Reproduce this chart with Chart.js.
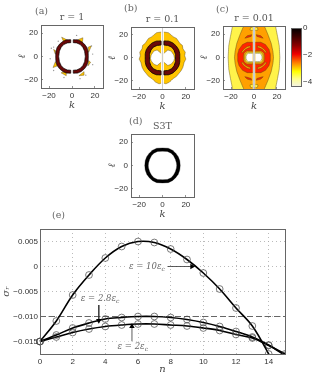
<!DOCTYPE html>
<html><head><meta charset="utf-8">
<style>
html,body{margin:0;padding:0;background:#fff;width:315px;height:374px;overflow:hidden}
canvas{position:absolute;display:block}
</style>
<script src="https://cdn.jsdelivr.net/npm/chart.js@4"></script>
</head><body>
<canvas id="a"></canvas><canvas id="b"></canvas><canvas id="c"></canvas><canvas id="cb"></canvas><canvas id="d"></canvas><canvas id="e"></canvas>
<script>
// ---- axis ticks
const kTicks=[-20,0,20], kLabels=['−20','0','20'];
const lTicks=[20,0,-20], lLabels=['20','0','−20'];
const cbTicks=[0,-2,-4], cbLabels=['0','−2','−4'];
const nTicks=[0,2,4,6,8,10,12,14], nLabels=['0','2','4','6','8','10','12','14'];
const sigmaTicks=[0.005,0,-0.005,-0.01,-0.015], sigmaLabels=['0.005','0','−0.005','−0.010','−0.015'];
// ---- panel (e) growth-rate curves
const nValues=[0,1,2,3,4,5,6,7,8,9,10,11,12,13,14,15];
const sigma10=[-0.015,-0.0109,-0.0057,-0.0017,0.0017,0.0040,0.0050,0.0048,0.0035,0.0014,-0.0013,-0.0045,-0.0083,-0.0119,-0.0175,-0.024];
const sigma28=[-0.015,-0.0137,-0.0123,-0.0113,-0.0105,-0.0102,-0.0100,-0.0100,-0.0102,-0.0106,-0.0112,-0.0120,-0.0130,-0.0141,-0.0157,-0.0178];
const sigma2=[-0.015,-0.0141,-0.0132,-0.0125,-0.0120,-0.0117,-0.0115,-0.0115,-0.0117,-0.0119,-0.0123,-0.0128,-0.0136,-0.0143,-0.0158,-0.0175];
const sigmaCritical=[[0,-0.01],[15,-0.01]];
const arrow28=[[3.6,-0.0077],[3.6,-0.0108]];
const arrow2=[[5.63,-0.0150],[5.63,-0.0120]];
const arrow10=[[7.45,0],[9.3,0]];
const notes=[{t:'ε = 10ε',n:5.45,s:0},{t:'ε = 2.8ε',n:2.5,s:-0.0064},{t:'ε = 2ε',n:4.75,s:-0.016}];
// ---- panel (a)
const ringA=[[1.1,14.3],[5,14.2],[8,12.9],[10.8,10.6],[13,7.6],[14,4.2],[14.2,0],[14,-4.2],[13,-7.6],[10.8,-10.6],[8,-12.9],[5,-14.2],[1.1,-14.3],[1.1,-11.8],[4,-11.6],[7.2,-10.2],[9.4,-7.9],[11,-4.5],[11.6,0],[11,4.5],[9.4,7.9],[7.2,10.2],[4,11.6],[1.1,11.8],[1.1,14.3]];
const patchA=[
 [[-9,16.5],[-5,14.5],[-7,12],[-9,16.5]],[[9.5,16],[5.5,14.5],[9,11.5],[9.5,16]],
 [[16.8,9],[14.2,8],[14.5,3.5],[16.8,9]],[[-16.5,-9.5],[-14.5,-4.5],[-12.5,-8],[-16.5,-9.5]],
 [[-9.5,-14],[-5,-16.5],[-5,-13],[-9.5,-14]],[[10.5,-13],[6,-16.5],[10.5,-16],[10.5,-13]],
 [[16.2,-5],[14.5,-3.5],[14,-8],[16.2,-5]],[[-16,6],[-14.5,5],[-14.5,2],[-16,6]]];
const specksA=[[-16,8],[-18,7],[-16,-12],[17,9],[18,-7],[7,-19],[-7,-18],[4,18],[-19,-2],[18,2],[12,-16],[-12,13]];
// ---- panel (b)
const blobB=[[1.2,22.5],[5,22],[7.5,20],[9,18.5],[12,17],[14,14],[15,12.5],[17,11],[17.5,8],[19.5,5],[19,2],[20,-1],[18.5,-4],[17.5,-8],[16,-11],[14,-13.5],[12,-16],[9,-18],[6,-21],[3,-22.5],[1.2,-22]];
const holeB=[[1.2,4],[4.6,6.9],[7.4,6],[9.7,2.6],[10.3,-0.3],[9.7,-2.6],[7.4,-5.4],[4.6,-6.6],[1.2,-3.7]];
const ringB=[[1.2,14.8],[5.5,14.6],[9,13],[11.8,10.4],[14,7],[14.8,3.5],[14.8,-3.5],[14,-7],[11.8,-10.4],[9,-13],[5.5,-14.6],[1.2,-14.8],[1.2,-11.2],[4.6,-10.9],[7.8,-9.4],[9.9,-6.8],[11.1,-3.3],[11.1,3.3],[9.9,6.8],[7.8,9.4],[4.6,10.9],[1.2,11.2],[1.2,14.8]];
// ---- panel (c)
const yellowC=[[1.2,28],[18.5,28],[20.5,18],[22,10],[22.5,0],[22,-10],[20.5,-18],[18.5,-28],[1.2,-28]];
const orangeC=[[1.2,28],[8.5,28],[12,20],[15,12],[16.5,5],[17,0],[16.5,-5],[15,-12],[12,-20],[8.5,-28],[1.2,-28]];
const redC=[[1.2,13],[6,13],[10,11],[13,7],[14.2,3],[14.2,-3],[13,-7],[10,-11],[6,-13],[1.2,-13]];
const bandTopC=[[3,10],[6,9.3],[9,7],[11,4.5],[10,4],[7.5,6.7],[5,8],[3,8.6],[3,10]];
const bandLowC=[[3,-10],[6,-9.3],[9,-7],[11,-4.5],[10,-4],[7.5,-6.7],[5,-8],[3,-8.6],[3,-10]];
const arcTopC=[[2,19.5],[6,18.5],[8,16.5],[6.5,16.8],[2.5,18],[2,19.5]];
const arcLowC=[[2,-19.5],[6,-18.5],[8,-16.5],[6.5,-16.8],[2.5,-18],[2,-19.5]];
const capTopC=[[1.2,26],[3,25.5],[3.5,23.5],[1.2,23]];
const capLowC=[[1.2,-26],[3,-25.5],[3.5,-23.5],[1.2,-23]];
const coreOrangeC=[[1.2,5.8],[6,5.8],[8.6,4],[9.2,1.5],[9.2,-1.5],[8.6,-4],[6,-5.8],[1.2,-5.8]];
const coreYellowC=[[1.2,4.6],[5.5,4.6],[7.6,3],[8,1],[8,-1],[7.6,-3],[5.5,-4.6],[1.2,-4.6]];
const coreWhiteC=[[1.2,3.6],[5,3.6],[6.6,2.2],[7,0.7],[7,-0.7],[6.6,-2.2],[5,-3.6],[1.2,-3.6]];
const gapLine=[[0,-27],[0,27]];
// ---- panel (d)
const outerD=[[0,15],[5,14.7],[8.5,13],[11.3,10.5],[13.5,7.5],[14.8,4],[15.2,0],[14.8,-4],[13.5,-7.5],[11.3,-10.5],[8.5,-13],[5,-14.7],[0,-15]];
const innerD=[[0,12.2],[4.2,12],[7.4,10.5],[9.5,8.2],[11,5.3],[12,2.1],[12.2,0],[12,-2.1],[11,-5.3],[9.5,-8.2],[7.4,-10.5],[4.2,-12],[0,-12.2]];
// ---- colour bar
const cbRange=[-4.3,0];
const cbStops=[[0,'#000000'],[0.14,'#3a0000'],[0.3,'#8a0000'],[0.45,'#f00000'],[0.6,'#ff8000'],[0.75,'#ffff00'],[0.88,'#ffff90'],[1,'#f4f4e0']];

const YEL='#FFF34A', ORG='#FFA000', GOLD='#FFC400', RED='#FF2400', MAR='#6A0808';
const EDGE='rgba(90,70,20,.75)';
const mirror=p=>p.map(([k,l])=>[-k,l]);
const pts=p=>p.map(([x,y])=>({x,y}));
const poly=(p,bg,bc=EDGE,bw=.6)=>({type:'scatter',data:pts(p),showLine:true,fill:false,shapeFill:bg,borderColor:bc,borderWidth:bw,pointRadius:0,tension:0.0001});
const both=(p,bg,bc,bw)=>[poly(p,bg,bc,bw),poly(mirror(p),bg,bc,bw)];
const TICK={family:'"Liberation Sans",Arial,sans-serif',size:8};
const framePlugin={id:'frame',afterDraw(c){const a=c.chartArea,x=c.ctx;x.save();x.strokeStyle='#666';x.lineWidth=1;x.strokeRect(Math.round(a.left)+.5,Math.round(a.top)+.5,Math.round(a.width),Math.round(a.height));x.restore();}};
// fills each closed contour through the points the scales placed
const shapeFillPlugin={id:'shapeFill',beforeDatasetDraw(c,args){const d=c.data.datasets[args.index];if(!d.shapeFill)return;
 const a=c.chartArea,x=c.ctx,pp=args.meta.data;x.save();x.beginPath();x.rect(a.left,a.top,a.width,a.height);x.clip();
 x.beginPath();pp.forEach((p,i)=>i?x.lineTo(p.x,p.y):x.moveTo(p.x,p.y));x.closePath();x.fillStyle=d.shapeFill;x.fill();x.restore();}};
const tagPlugin={id:'tag',afterDraw(c){const o=c.options.plugins.tag;if(!o)return;const x=c.ctx;x.save();x.font='9.5px "DejaVu Serif",serif';x.fillStyle='#666';x.textBaseline='middle';x.fillText(o.text,c.chartArea.left+o.dx,c.chartArea.top+o.dy);x.restore();}};

function place(id,l,t,w,h){const c=document.getElementById(id);c.width=w;c.height=h;c.style.left=l+'px';c.style.top=t+'px';c.style.width=w+'px';c.style.height=h+'px';return c;}
function linAxis(min,max,ticks,labels,fit,title,titlePad,tickPad,grid,dash){
 return {type:'linear',min,max,afterBuildTicks:s=>{s.ticks=ticks.map(v=>({value:v}));},
  afterFit:fit,border:{display:false,dash:dash||[]},
  ticks:{autoSkip:false,maxRotation:0,minRotation:0,font:TICK,color:'#333',padding:tickPad,callback:(v,i)=>labels[i]},
  title:{display:!!title,text:title,color:'#444',font:{family:'"DejaVu Serif",serif',size:10,style:'italic',lineHeight:1},padding:{top:titlePad,bottom:0}},
  grid:grid};
}
const innerTicks={drawOnChartArea:false,drawTicks:true,tickLength:-2,color:'#777',lineWidth:.8};
function panel(id,f,tag,tagAt,title,datasets,titlePadTop){
 const [L,T,R,B]=f, leftW=24, topH=17, extraTop=10, botH=22, rightW=8;
 const w=R-L+leftW+rightW, h=B-T+topH+botH+extraTop;
 const cv=place(id,L-leftW,T-topH-extraTop,w,h);
 datasets.forEach((d,i)=>{d.order=datasets.length-i;});
 new Chart(cv,{type:'scatter',data:{datasets},plugins:[shapeFillPlugin,framePlugin,tagPlugin],options:{
  responsive:false,animation:false,devicePixelRatio:1,
  layout:{padding:{top:extraTop,right:rightW,bottom:0,left:0}},
  plugins:{legend:{display:false},tooltip:{enabled:false},tag:{text:tag,dx:tagAt[0],dy:tagAt[1]},
   title:{display:true,text:title,fullSize:false,color:'#555',font:{family:'"DejaVu Serif",serif',size:9.5,weight:'normal',lineHeight:1.2},padding:{top:titlePadTop,bottom:16.9-11.4-titlePadTop}}},
  scales:{
   x:linAxis(-27,27,kTicks,kLabels,s=>{s.height=botH;},'k',1,5,innerTicks),
   y:linAxis(-27,27,lTicks,lLabels,s=>{s.width=leftW;},'ℓ',0,5,innerTicks)
  }}});
}

// panel a
panel('a',[41,25,103,88],'(a)',[-6,-13],'r = 1',[
 ...patchA.map(p=>poly(p,GOLD,'rgba(80,60,10,.8)',.5)),
 {type:'scatter',data:pts(specksA),pointRadius:.7,pointBackgroundColor:'#999',pointBorderWidth:0},
 ...both(ringA,MAR,'#000',.7)
],3.5);
// panel b
panel('b',[131,27,194,89],'(b)',[-7,-18],'r = 0.1',[
 ...both(blobB,GOLD),
 ...both(holeB,'#fff'),
 ...both(ringB,MAR,'#000',.8),
 {type:'scatter',data:pts(gapLine),showLine:true,borderColor:'#ccc',borderWidth:1,pointRadius:0}
],3.5);
// panel c
panel('c',[223,26,285,89],'(c)',[-7,-16],'r = 0.01',[
 ...both(yellowC,YEL),
 ...both(orangeC,ORG),
 ...both(capTopC,YEL),...both(capLowC,YEL),
 ...both(arcTopC,RED),...both(arcLowC,RED),
 ...both(redC,RED),
 ...both(bandTopC,ORG),...both(bandLowC,ORG),
 ...both(coreOrangeC,ORG),...both(coreYellowC,YEL),...both(coreWhiteC,'#fff'),
 {type:'scatter',data:pts(gapLine),showLine:true,borderColor:'#bbb',borderWidth:1.5,pointRadius:0}
],3.5);
// panel d
panel('d',[131,134,194,197],'(d)',[-2,-12],'S3T',[
 poly([...outerD,...mirror(outerD).reverse()],'#000','#000',.3),
 poly([...innerD,...mirror(innerD).reverse()],'#fff','#000',.3)
],3.5);

// colour bar
{
 const cv=place('cb',289,20,26,74);
 new Chart(cv,{type:'bar',data:{labels:['c'],datasets:[{data:[cbRange],barPercentage:1,categoryPercentage:1,borderSkipped:false,borderWidth:0,
   backgroundColor(ctx){const a=ctx.chart.chartArea;if(!a)return '#000';const g=ctx.chart.ctx.createLinearGradient(0,a.top,0,a.bottom);cbStops.forEach(([p,c])=>g.addColorStop(p,c));return g;}}]},
  plugins:[framePlugin],options:{responsive:false,animation:false,devicePixelRatio:1,
   layout:{padding:{top:8,bottom:8,left:2,right:0}},
   plugins:{legend:{display:false},tooltip:{enabled:false}},
   scales:{x:{display:false,type:'category'},
    y:{...linAxis(-4.3,0,cbTicks,cbLabels,s=>{s.width=14;},'',0,2,{drawOnChartArea:false,drawTicks:false}),position:'right'}}}});
}

// panel e
const noteLabels={id:'notes',afterDatasetsDraw(c){const x=c.ctx,sx=c.scales.x,sy=c.scales.y;x.save();x.textBaseline='middle';
 notes.forEach(d=>{const px=sx.getPixelForValue(d.n),py=sy.getPixelForValue(d.s);x.font='italic 8.5px "DejaVu Serif",serif';
  const w=x.measureText(d.t).width;x.fillStyle='#fff';x.fillRect(px-1,py-5,w+7,10);x.fillStyle='#666';x.fillText(d.t,px,py);
  x.font='italic 6px "DejaVu Serif",serif';x.fillText('c',px+w,py+2.5);});x.restore();}};
const curve=s=>({type:'scatter',showLine:true,data:nValues.map((n,i)=>({x:n,y:s[i]})),borderColor:'#000',borderWidth:1.6,tension:.35,
  pointRadius:3.4,pointStyle:'circle',pointBackgroundColor:'rgba(0,0,0,0)',pointBorderColor:'#444',pointBorderWidth:.7,
  clip:{left:false,top:0,right:0,bottom:0}});
const arrow=(p,rot)=>({type:'scatter',showLine:true,data:pts(p),borderColor:'#333',borderWidth:.8,pointStyle:'triangle',pointRadius:[0,3.2],pointRotation:rot,pointBackgroundColor:'#000',pointBorderColor:'#000',pointBorderWidth:0});
{
 const cv=place('e',0,208,315,166);
 const ds=[arrow(arrow28,180),arrow(arrow2,0),arrow(arrow10,90),curve(sigma10),curve(sigma28),curve(sigma2),
  {type:'scatter',showLine:true,data:pts(sigmaCritical),borderColor:'#666',borderWidth:1,borderDash:[6,3],pointRadius:0}];
 ds.forEach((d,i)=>{d.order=i;});
 const gd={color:'#aaa',lineWidth:.8,drawTicks:false,tickLength:0};
 new Chart(cv,{type:'scatter',data:{datasets:ds},plugins:[noteLabels,framePlugin,tagPlugin],options:{
  responsive:false,animation:false,devicePixelRatio:1,
  layout:{padding:{top:21,right:30,bottom:0,left:0}},
  plugins:{legend:{display:false},tooltip:{enabled:false},tag:{text:'(e)',dx:12,dy:-13}},
  scales:{
   x:linAxis(0,15,nTicks,nLabels,s=>{s.height=20;},'n',1,3,gd,[1,3]),
   y:linAxis(-0.0175,0.0075,sigmaTicks,sigmaLabels,s=>{s.width=40;},'σᵣ',1,2,gd,[1,3])
  }}});
}
</script>
</body></html>
